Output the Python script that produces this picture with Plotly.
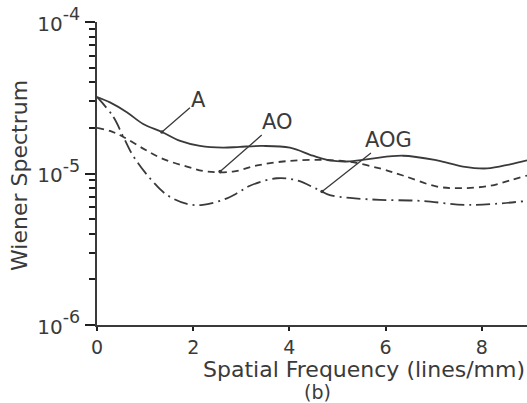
import numpy as np
import plotly.graph_objects as go

# --- data ---
freq_A = [0, 0.27, 0.62, 0.96, 1.35, 1.73, 2.14, 2.62, 2.97, 3.45, 4.01, 4.49, 4.84, 5.20, 5.68, 6.36, 7.07, 7.61, 8.11, 8.59, 8.94]
wiener_A = [3.2e-5, 2.95e-5, 2.54e-5, 2.12e-5, 1.88e-5, 1.64e-5, 1.52e-5, 1.48e-5, 1.50e-5, 1.52e-5, 1.48e-5,
            1.31e-5, 1.22e-5, 1.20e-5, 1.25e-5, 1.31e-5, 1.22e-5, 1.11e-5, 1.08e-5, 1.15e-5, 1.22e-5]

freq_AO = [0, 0.27, 0.54, 0.96, 1.37, 1.87, 2.29, 2.83, 3.33, 3.87, 4.49, 5.20, 5.88, 6.36, 7.07, 7.61, 8.17, 8.59, 8.94]
wiener_AO = [2.0e-5, 1.91e-5, 1.75e-5, 1.46e-5, 1.25e-5, 1.11e-5, 1.03e-5, 1.03e-5, 1.13e-5, 1.20e-5, 1.23e-5,
             1.20e-5, 1.08e-5, 0.97e-5, 0.82e-5, 0.80e-5, 0.83e-5, 0.90e-5, 0.97e-5]

freq_AOG = [0, 0.33, 0.54, 0.75, 1.10, 1.46, 1.87, 2.20, 2.62, 2.91, 3.18, 3.74, 4.16, 4.57, 4.84, 5.26, 5.88, 6.72, 7.75, 8.94]
wiener_AOG = [3.2e-5, 2.39e-5, 1.77e-5, 1.31e-5, 0.93e-5, 0.72e-5, 0.63e-5, 0.62e-5, 0.67e-5, 0.74e-5, 0.83e-5,
              0.93e-5, 0.90e-5, 0.79e-5, 0.72e-5, 0.69e-5, 0.67e-5, 0.66e-5, 0.62e-5, 0.66e-5]

x_ticks = [0, 2, 4, 6, 8]
y_tickvals = [1e-6, 1e-5, 1e-4]
y_ticktext = ["<span style='font-size:20px'>10</span><sup>-6</sup>",
              "<span style='font-size:20px'>10</span><sup>-5</sup>",
              "<span style='font-size:20px'>10</span><sup>-4</sup>"]
y_minor = [m * d for d in (1e-6, 1e-5) for m in range(2, 10)]

# label anchor frequencies for the pointer lines
label_A_freq = 1.35
label_AO_freq = 2.56
label_AOG_freq = 4.68

INK = "#3a3a3a"
TICK = "#202020"
FONT = "DejaVu Sans"

fig = go.Figure()
fig.add_trace(go.Scatter(x=freq_A, y=wiener_A, mode="lines", line=dict(color=INK, width=1.8, shape="spline"), showlegend=False))
fig.add_trace(go.Scatter(x=freq_AO, y=wiener_AO, mode="lines", line=dict(color=INK, width=1.8, dash="7px,5px", shape="spline"), showlegend=False))
fig.add_trace(go.Scatter(x=freq_AOG, y=wiener_AOG, mode="lines", line=dict(color=INK, width=1.8, dash="14px,5px,2px,5px", shape="spline"), showlegend=False))


def logy_at(fx, fy, x0):
    return float(np.interp(x0, fx, np.log10(fy)))


ann = []
for text, fx, fy, x0, ax, ay in [
    ("A", freq_A, wiener_A, label_A_freq, 37, -32),
    ("AO", freq_AO, wiener_AO, label_AO_freq, 57, -50),
    ("AOG", freq_AOG, wiener_AOG, label_AOG_freq, 66, -52),
]:
    ann.append(dict(x=x0, y=logy_at(fx, fy, x0), xref="x", yref="y", text=text, showarrow=True,
                    ax=ax, ay=ay, arrowhead=6, arrowsize=0.7, arrowwidth=1.3, arrowcolor=INK,
                    font=dict(family=FONT, size=21, color=INK), xanchor="center", yanchor="middle"))

ann.append(dict(x=0.621, y=-0.148, xref="paper", yref="paper", text="Spatial Frequency (lines/mm)",
                showarrow=False, font=dict(family=FONT, size=22, color=INK), xanchor="center", yanchor="middle"))
ann.append(dict(x=0.512, y=-0.221, xref="paper", yref="paper", text="(b)",
                showarrow=False, font=dict(family=FONT, size=19, color=INK), xanchor="center", yanchor="middle"))
ann.append(dict(x=-0.179, y=0.492, xref="paper", yref="paper", text="Wiener Spectrum", textangle=-90,
                showarrow=False, font=dict(family=FONT, size=22, color=INK), xanchor="center", yanchor="middle"))

fig.update_layout(
    width=527, height=403,
    margin=dict(l=97, r=0, t=22, b=78),
    paper_bgcolor="white", plot_bgcolor="white",
    font=dict(family=FONT, color=INK),
    annotations=ann,
    xaxis=dict(range=[0, 8.94], tickvals=x_ticks, showgrid=False, zeroline=False,
               showline=True, linecolor=INK, linewidth=1.5, ticks="outside", ticklen=4, tickwidth=1.5,
               tickcolor=TICK, tickfont=dict(family=FONT, size=19, color=INK)),
    yaxis=dict(type="log", range=[-6, -4], tickvals=y_tickvals, ticktext=y_ticktext,
               showgrid=False, zeroline=False, showline=True, linecolor=INK, linewidth=1.5,
               ticks="outside", ticklen=10, tickwidth=1.6, tickcolor=TICK,
               tickfont=dict(family=FONT, size=25, color=INK),
               minor=dict(ticks="outside", ticklen=6, tickwidth=1.5, tickcolor=TICK,
                          tickvals=y_minor, showgrid=False)),
)

fig.write_html("out.html")
